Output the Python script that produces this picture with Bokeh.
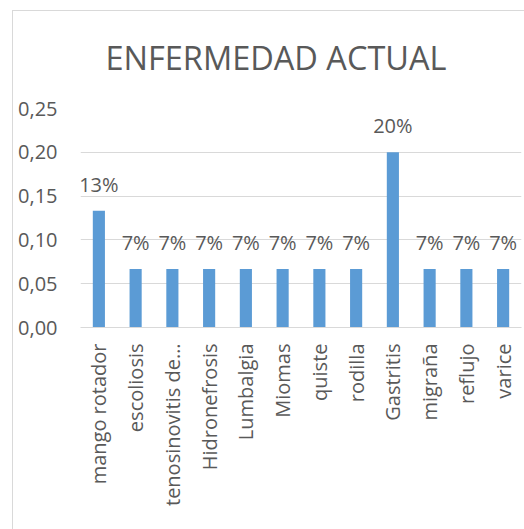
from bokeh.plotting import figure
from bokeh.models import (FixedTicker, CustomJSTickFormatter, ColumnDataSource,
                          Range1d, InlineStyleSheet)
from bokeh.embed import file_html
from bokeh.resources import INLINE
from bokeh.core.properties import value
import math

title_text = "ENFERMEDAD ACTUAL"
categories = ["mango rotador", "escoliosis", "tenosinovitis de\u2026", "Hidronefrosis",
              "Lumbalgia", "Miomas", "quiste", "rodilla", "Gastritis", "migraña",
              "reflujo", "varice"]
values = [0.1333, 0.0667, 0.0667, 0.0667, 0.0667, 0.0667, 0.0667, 0.0667,
          0.2, 0.0667, 0.0667, 0.0667]
labels = ["13%", "7%", "7%", "7%", "7%", "7%", "7%", "7%", "20%", "7%", "7%", "7%"]
y_ticks = [0.0, 0.05, 0.10, 0.15, 0.20, 0.25]

FONT = "Open Sans"
TXT = "#595959"
GRID = "#D9D9D9"
BAR = "#5B9BD5"

src = ColumnDataSource(dict(cat=categories, val=values, lab=labels))

p = figure(width=524, height=529, x_range=categories, y_range=Range1d(0, 0.25),
           output_backend="svg", toolbar_location=None,
           min_border_left=80, min_border_right=3, min_border_top=108,
           min_border_bottom=202)
p.outline_line_color = None
p.background_fill_color = "white"
p.border_fill_color = "white"

p.title.text = title_text
p.title.text_font = FONT
p.title.text_font_size = "32.5px"
p.title.text_font_style = "normal"
p.title.text_color = TXT
p.title.align = "left"
p.title.offset = 25
p.title.standoff = 57

p.vbar(x="cat", top="val", width=0.33, source=src, color=BAR, line_color=None)
p.text(x="cat", y="val", text="lab", source=src, text_align="center",
       text_baseline="bottom", y_offset=-13, text_font=value(FONT),
       text_font_size="20px", text_color=TXT)

# y axis
ya = p.yaxis[0]
ya.ticker = FixedTicker(ticks=y_ticks)
ya.formatter = CustomJSTickFormatter(code="return tick.toFixed(2).replace('.', ',');")
ya.axis_line_color = None
ya.major_tick_line_color = None
ya.minor_tick_line_color = None
ya.major_tick_out = 0
ya.major_tick_in = 0
ya.minor_tick_out = 0
ya.major_label_standoff = 23
ya.major_label_text_font = FONT
ya.major_label_text_font_size = "20px"
ya.major_label_text_color = TXT

p.ygrid.ticker = FixedTicker(ticks=y_ticks)
p.ygrid.grid_line_color = GRID
p.xgrid.grid_line_color = None

xa = p.xaxis[0]
xa.axis_line_color = GRID
xa.major_tick_line_color = None
xa.minor_tick_line_color = None
xa.major_tick_out = 0
xa.major_tick_in = 0
xa.minor_tick_out = 0
xa.major_label_orientation = math.pi / 2
xa.major_label_standoff = 16
xa.major_label_text_font = FONT
xa.major_label_text_font_size = "20px"
xa.major_label_text_color = TXT

# light grey chart-area border
p.stylesheets = [InlineStyleSheet(css="""
:host { position: relative; }
:host::after {
  content: ''; position: absolute; left: 12px; top: 10px;
  width: 600px; height: 600px; border: 1px solid #D9D9D9;
  pointer-events: none; box-sizing: border-box;
}
""")]

open("out.html", "w").write(file_html(p, INLINE))
